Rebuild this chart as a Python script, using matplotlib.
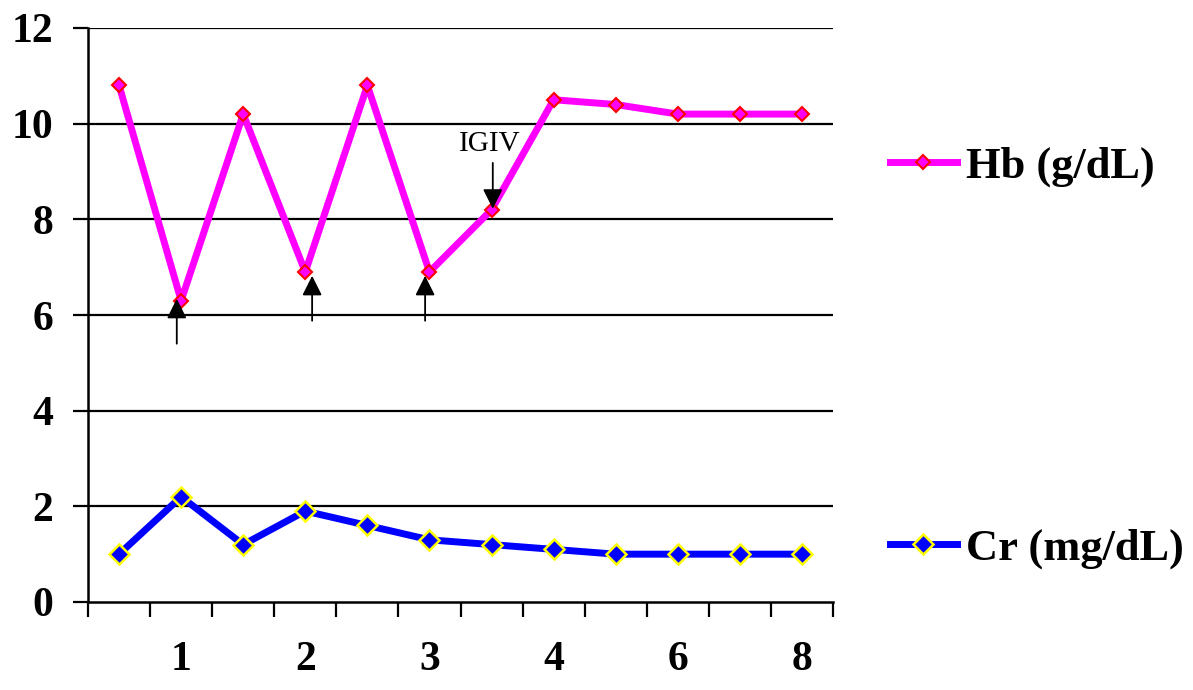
import numpy as np
import matplotlib
matplotlib.use("Agg")
import matplotlib.pyplot as plt
from matplotlib.ticker import FixedLocator, NullFormatter, FixedFormatter

plt.rcParams.update({"font.family": ["Liberation Serif", "DejaVu Serif"]})

# --- данные ---
hb = [10.8, 6.3, 10.2, 6.9, 10.8, 6.9, 8.2, 10.5, 10.4, 10.2, 10.2, 10.2]
cr = [1.0, 2.2, 1.2, 1.9, 1.6, 1.3, 1.2, 1.1, 1.0, 1.0, 1.0, 1.0]
x_labels = ["1", "2", "3", "4", "6", "8"]
x_label_idx = [1, 3, 5, 7, 9, 11]
y_ticks = [0, 2, 4, 6, 8, 10, 12]

# стрелки: (x, хвост, остриё)
up_arrows = [(0.93, 5.40, 6.34), (3.11, 5.88, 6.82), (4.93, 5.88, 6.82)]
igiv_arrow = (6.02, 9.18, 8.22)

x = np.arange(len(hb))

fig = plt.figure(figsize=(11.93, 6.9), dpi=100)
ax = fig.add_axes([88 / 1193, 1 - 602 / 690, (833 - 88) / 1193, (602 - 28) / 690])

for y in y_ticks[1:]:
    ax.axhline(y, color="black", lw=1.6, zorder=1)

hb_line, = ax.plot(x, hb, color="#FF00FF", lw=5, marker="D", ms=7,
                   mfc="#FF00FF", mec="#FF0000", mew=1.5, zorder=3, label="Hb (g/dL)")
cr_line, = ax.plot(x, cr, color="#0000FF", lw=5, marker="D", ms=10.5,
                   mfc="#0000FF", mec="#FFFF00", mew=1.8, zorder=3, label="Cr (mg/dL)")

ax.set_xlim(-0.5, len(hb) - 0.5)
ax.set_ylim(0, 12)

arrow_props = dict(arrowstyle="-|>,head_length=0.6,head_width=0.3", mutation_scale=20,
                   color="black", lw=1.3, shrinkA=0, shrinkB=0)
for ux, y0, y1 in up_arrows:
    ax.annotate("", xy=(ux, y1), xytext=(ux, y0), arrowprops=arrow_props, zorder=4)
ax.annotate("", xy=(igiv_arrow[0], igiv_arrow[2]), xytext=(igiv_arrow[0], igiv_arrow[1]),
            arrowprops=arrow_props, zorder=4)
ax.text(igiv_arrow[0] - 0.05, igiv_arrow[1] + 0.12, "IGIV", ha="center", va="bottom",
        fontsize=21, zorder=4)

for s in ["top", "right"]:
    ax.spines[s].set_visible(False)
for s in ["left", "bottom"]:
    ax.spines[s].set_linewidth(1.8)

ax.set_yticks(y_ticks)
ax.tick_params(axis="y", direction="out", length=11, width=1.6, pad=14, labelsize=30)
for lab in ax.get_yticklabels():
    lab.set_fontweight("bold")

ax.xaxis.set_major_locator(FixedLocator(np.arange(-0.5, len(hb), 1.0)))
ax.xaxis.set_major_formatter(NullFormatter())
ax.xaxis.set_minor_locator(FixedLocator(x_label_idx))
ax.xaxis.set_minor_formatter(FixedFormatter(x_labels))
ax.tick_params(axis="x", which="major", direction="out", length=11, width=1.6)
ax.tick_params(axis="x", which="minor", length=0, pad=28, labelsize=30)
for lab in ax.get_xticklabels(minor=True):
    lab.set_fontweight("bold")

for h, yc in [(hb_line, 1 - 167 / 690), (cr_line, 1 - 549 / 690)]:
    fig.legend(handles=[h], loc="center left", bbox_to_anchor=(890 / 1193, yc),
               frameon=False, borderpad=0, borderaxespad=0, handlelength=1.5,
               handletextpad=0.2, prop=dict(family="Liberation Serif", weight="bold", size=32))

fig.savefig("out.png", dpi=100)
